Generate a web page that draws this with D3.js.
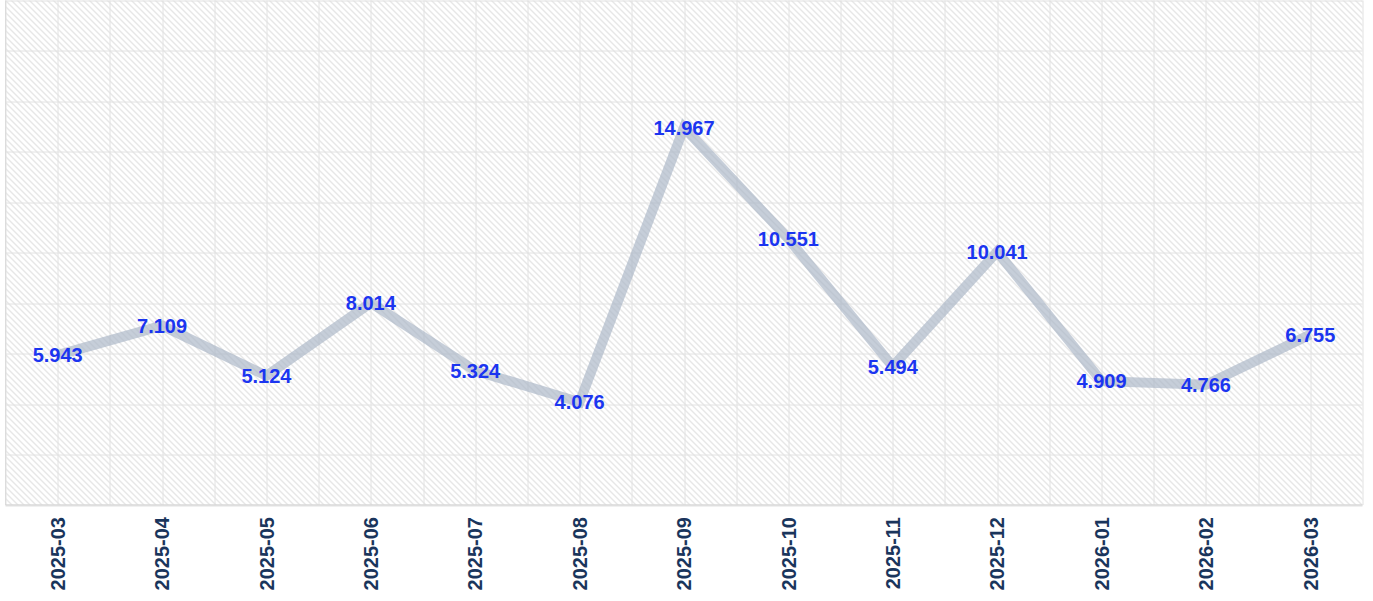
<!DOCTYPE html>
<html>
<head>
<meta charset="utf-8">
<script src="https://cdn.jsdelivr.net/npm/d3@7"></script>
<style>
  body { margin: 0; background: #fff; }
  svg { display: block; font-family: Arial, "Liberation Sans", sans-serif; }
</style>
</head>
<body>
<div id="chart"></div>
<script>
// data
const months = ["2025-03", "2025-04", "2025-05", "2025-06", "2025-07", "2025-08", "2025-09",
                "2025-10", "2025-11", "2025-12", "2026-01", "2026-02", "2026-03"];
const values = [5.943, 7.109, 5.124, 8.014, 5.324, 4.076, 14.967, 10.551, 5.494, 10.041, 4.909, 4.766, 6.755];
const yTicks = [0, 2, 4, 6, 8, 10, 12, 14, 16, 18, 20];

const W = 1373, H = 601;
const margin = { left: 5.5, right: 10.5, top: 0.5, bottom: 96 };
const innerW = W - margin.left - margin.right;
const innerH = H - margin.top - margin.bottom;

const svg = d3.select("#chart").append("svg")
    .attr("width", W)
    .attr("height", H);

// hatch pattern for the plot background
const defs = svg.append("defs");
const pat = defs.append("pattern")
    .attr("id", "hatch")
    .attr("patternUnits", "userSpaceOnUse")
    .attr("width", 6)
    .attr("height", 6);
pat.append("path")
    .attr("d", "M0,0L6,6M-1,5L1,7M5,-1L7,1")
    .attr("stroke", "#cfcfcf")
    .attr("stroke-width", 1);

const g = svg.append("g")
    .attr("transform", `translate(${margin.left},${margin.top})`);

const x = d3.scaleBand()
    .domain(months)
    .range([0, innerW])
    .padding(0);

const y = d3.scaleLinear()
    .domain([0, 20])
    .range([innerH, 0]);

const cx = d => x(d) + x.bandwidth() / 2;

g.append("rect")
    .attr("width", innerW)
    .attr("height", innerH)
    .attr("fill", "url(#hatch)");

// grid: horizontal
g.append("g")
    .selectAll("line")
    .data(yTicks)
    .join("line")
    .attr("x1", 0)
    .attr("x2", innerW)
    .attr("y1", d => Math.round(y(d)) + 0.5)
    .attr("y2", d => Math.round(y(d)) + 0.5)
    .attr("stroke", "#e2e2e2")
    .attr("stroke-width", 1);

// grid: vertical, at band centres and band edges
const vLines = [];
months.forEach(m => { vLines.push(x(m)); vLines.push(cx(m)); });
vLines.push(innerW);
g.append("g")
    .selectAll("line")
    .data(vLines)
    .join("line")
    .attr("x1", d => Math.round(d) + 0.5)
    .attr("x2", d => Math.round(d) + 0.5)
    .attr("y1", 0)
    .attr("y2", innerH)
    .attr("stroke", "#e2e2e2")
    .attr("stroke-width", 1);

// frame on left and bottom
g.append("line")
    .attr("x1", 0).attr("x2", 0)
    .attr("y1", 0).attr("y2", innerH)
    .attr("stroke", "#dcdcdc");
g.append("line")
    .attr("x1", 0).attr("x2", innerW)
    .attr("y1", innerH).attr("y2", innerH)
    .attr("stroke", "#d8d8d8")
    .attr("stroke-width", 1.5);

// x axis labels
const xAxis = g.append("g")
    .attr("transform", `translate(0,${innerH})`)
    .call(d3.axisBottom(x).tickSize(0).tickPadding(0));
xAxis.select(".domain").remove();
xAxis.selectAll("text")
    .attr("transform", "rotate(-90)")
    .attr("x", -12)
    .attr("y", 0)
    .attr("dy", "0.36em")
    .attr("text-anchor", "end")
    .attr("fill", "#1a355c")
    .style("font-size", "20px")
    .style("font-weight", "bold")
    .style("font-family", "Arial, 'Liberation Sans', sans-serif");

// line
const data = months.map((m, i) => ({ month: m, value: values[i] }));
const line = d3.line()
    .x(d => cx(d.month))
    .y(d => y(d.value));

g.append("path")
    .datum(data)
    .attr("d", line)
    .attr("fill", "none")
    .attr("stroke", "#a7b3c4")
    .attr("stroke-opacity", 0.65)
    .attr("stroke-width", 10)
    .attr("stroke-linejoin", "miter");

// value labels
g.append("g")
    .selectAll("text")
    .data(data)
    .join("text")
    .attr("x", d => cx(d.month))
    .attr("y", d => y(d.value))
    .attr("dy", "0.36em")
    .attr("text-anchor", "middle")
    .attr("fill", "#1b35f0")
    .style("font-size", "20px")
    .style("font-weight", "bold")
    .text(d => d3.format(".3f")(d.value));
</script>
</body>
</html>
